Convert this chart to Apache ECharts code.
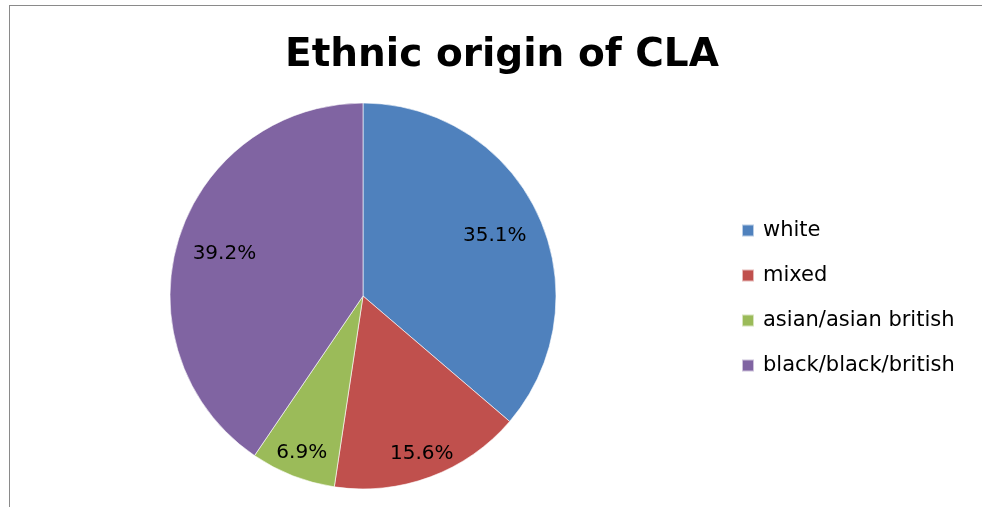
<!DOCTYPE html>
<html>
<head>
<meta charset="utf-8">
<script src="https://cdn.jsdelivr.net/npm/echarts@6/dist/echarts.min.js"></script>
<style>
  html, body { margin: 0; padding: 0; background: #fff; }
  #frame { position: absolute; left: 9px; top: 5px; width: 1000px; height: 600px;
           border-left: 1px solid #8a8a8a; border-top: 1px solid #8a8a8a; }
  #chart { position: absolute; left: 0; top: 0; width: 982px; height: 507px; }
</style>
</head>
<body>
<div id="frame"></div>
<div id="chart"></div>
<script>
const titleText = 'Ethnic origin of CLA';
const categories = ['white', 'mixed', 'asian/asian british', 'black/black/british'];
const values = [35.1, 15.6, 6.9, 39.2];
const colors = ['#4F81BD', '#C0504D', '#9BBB59', '#8064A2'];
// label groups (which slices get labels at which ring)
const labelGroupA = ['white', 'black/black/british'];
const labelGroupB = ['mixed', 'asian/asian british'];

const center = [363, 296];
const R = 193;

const mainData = categories.map((c, i) => ({ name: c, value: values[i], itemStyle: { color: colors[i] } }));

function overlay(group, r0, r1) {
  return {
    type: 'pie',
    silent: true,
    center: center,
    radius: [r0, r1],
    startAngle: 90,
    clockwise: true,
    animation: false,
    itemStyle: { color: 'rgba(0,0,0,0)', borderWidth: 0 },
    labelLine: { show: false },
    emphasis: { disabled: true },
    data: categories.map((c, i) => ({
      name: c, value: values[i],
      label: { show: group.indexOf(c) >= 0 }
    })),
    label: {
      position: 'inside',
      formatter: '{c}%',
      color: '#000',
      fontFamily: 'DejaVu Sans',
      fontSize: 20
    }
  };
}

const chart = echarts.init(document.getElementById('chart'), null, { renderer: 'canvas' });
chart.setOption({
  backgroundColor: 'transparent',
  animation: false,
  title: {
    text: titleText,
    left: 280,
    top: 31,
    textStyle: { fontFamily: 'DejaVu Sans', fontWeight: 'bold', fontSize: 39, color: '#000' }
  },
  legend: {
    orient: 'vertical',
    left: 741,
    top: 220,
    padding: 0,
    itemWidth: 12,
    itemHeight: 12,
    itemGap: 24,
    icon: 'rect',
    data: categories,
    selectedMode: false,
    textStyle: { fontFamily: 'DejaVu Sans', fontSize: 21, color: '#000', padding: [0, 0, 0, 4] }
  },
  series: [
    {
      type: 'pie',
      center: center,
      radius: [0, R],
      startAngle: 90,
      clockwise: true,
      animation: false,
      label: { show: false },
      labelLine: { show: false },
      itemStyle: { borderColor: 'rgba(255,255,255,0.6)', borderWidth: 1 },
      data: mainData
    },
    overlay(labelGroupA, 116, 168),
    overlay(labelGroupB, 148, 182)
  ]
});
</script>
</body>
</html>
